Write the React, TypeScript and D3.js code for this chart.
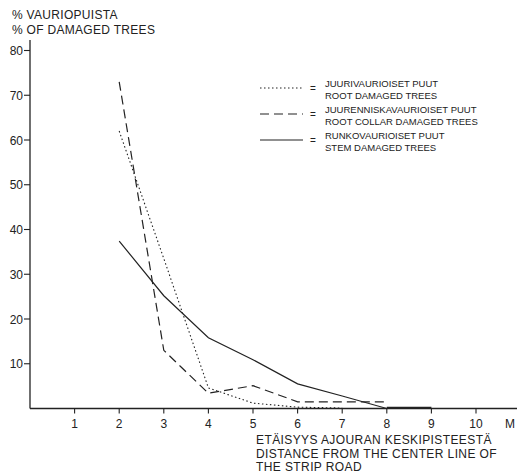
import React from "react";
import * as d3 from "d3";

const distances = [2, 3, 4, 5, 6, 7, 8, 9];
const rootDamaged = [62, 33.5, 4.6, 1.2, 0.3, 0.1];
const collarDamaged = [73, 13, 3.4, 5.1, 1.5, 1.5, 1.5];
const stemDamaged = [37.4, 25.2, 15.8, 10.9, 5.5, 2.8, 0, 0];

const xTicks = [1, 2, 3, 4, 5, 6, 7, 8, 9, 10];
const yTicks = [10, 20, 30, 40, 50, 60, 70, 80];

const legendRows = [
  { dash: "1.5,2.5", lines: ["JUURIVAURIOISET PUUT", "ROOT DAMAGED TREES"] },
  { dash: "9,5", lines: ["JUURENNISKAVAURIOISET PUUT", "ROOT COLLAR DAMAGED TREES"] },
  { dash: null, lines: ["RUNKOVAURIOISET PUUT", "STEM DAMAGED TREES"] },
];

const xLabel = [
  "ETÄISYYS AJOURAN KESKIPISTEESTÄ",
  "DISTANCE FROM THE CENTER LINE OF",
  "THE STRIP ROAD",
];

const ink = "#222";
const font = "'Liberation Sans', Arial, sans-serif";

export default function App() {
  const width = 520;
  const height = 475;

  const x = d3.scaleLinear().domain([0, 10]).range([30, 476]);
  const y = d3.scaleLinear().domain([0, 80]).range([408.5, 50.5]);

  const line = d3
    .line<[number, number]>()
    .x((d) => x(d[0]))
    .y((d) => y(d[1]));

  const toPts = (vals: number[]) =>
    vals.map((v, i) => [distances[i], v] as [number, number]);

  const series = [
    { vals: rootDamaged, dash: "1.5,2.5", w: 1.1 },
    { vals: collarDamaged, dash: "9,5", w: 1.2 },
    { vals: stemDamaged, dash: null, w: 1.2 },
  ];

  return (
    <svg
      width={width}
      height={height}
      style={{ position: "absolute", left: 0, top: 0, background: "#fff" }}
      fontFamily={font}
    >
      {/* titles */}
      <text x={12} y={19} fontSize={12} fill={ink} letterSpacing={0.3}>
        % VAURIOPUISTA
      </text>
      <text x={12} y={34} fontSize={12} fill={ink} letterSpacing={0.3}>
        % OF DAMAGED TREES
      </text>

      {/* axes */}
      <line x1={x(0)} x2={x(0)} y1={40} y2={y(0)} stroke={ink} strokeWidth={1.3} />
      <line x1={x(0)} x2={517} y1={y(0)} y2={y(0)} stroke={ink} strokeWidth={1.3} />

      {yTicks.map((t) => (
        <g key={t}>
          <line x1={x(0) - 6} x2={x(0)} y1={y(t)} y2={y(t)} stroke={ink} strokeWidth={1.1} />
          <text x={x(0) - 7} y={y(t) + 4.5} fontSize={12} textAnchor="end" fill={ink}>
            {t}
          </text>
        </g>
      ))}

      {xTicks.map((t) => (
        <g key={t}>
          <line x1={x(t)} x2={x(t)} y1={y(0)} y2={y(0) + 5} stroke={ink} strokeWidth={1.1} />
          <text x={x(t)} y={y(0) + 19} fontSize={12} textAnchor="middle" fill={ink}>
            {t}
          </text>
        </g>
      ))}
      <text x={510} y={y(0) + 19} fontSize={12} textAnchor="middle" fill={ink}>
        M
      </text>

      {xLabel.map((s, i) => (
        <text key={i} x={256} y={444 + i * 13.5} fontSize={12} fill={ink} letterSpacing={0.4}>
          {s}
        </text>
      ))}

      {/* data lines */}
      {series.map((s, i) => (
        <path
          key={i}
          d={line(toPts(s.vals)) || ""}
          fill="none"
          stroke={ink}
          strokeWidth={s.w}
          strokeDasharray={s.dash || undefined}
        />
      ))}
      {/* thicker segment on axis 8..9 */}
      <line x1={x(8)} x2={x(9)} y1={y(0) - 1} y2={y(0) - 1} stroke={ink} strokeWidth={1.5} />

      {/* legend */}
      {legendRows.map((r, i) => {
        const ly = 88 + i * 26;
        return (
          <g key={i}>
            <line
              x1={260}
              x2={303}
              y1={ly}
              y2={ly}
              stroke={ink}
              strokeWidth={1.1}
              strokeDasharray={r.dash || undefined}
            />
            <text x={313} y={ly + 3.5} fontSize={10} textAnchor="middle" fill={ink}>
              =
            </text>
            {r.lines.map((s, j) => (
              <text key={j} x={325} y={ly - 1 + j * 12} fontSize={9.5} fill={ink}>
                {s}
              </text>
            ))}
          </g>
        );
      })}
    </svg>
  );
}
